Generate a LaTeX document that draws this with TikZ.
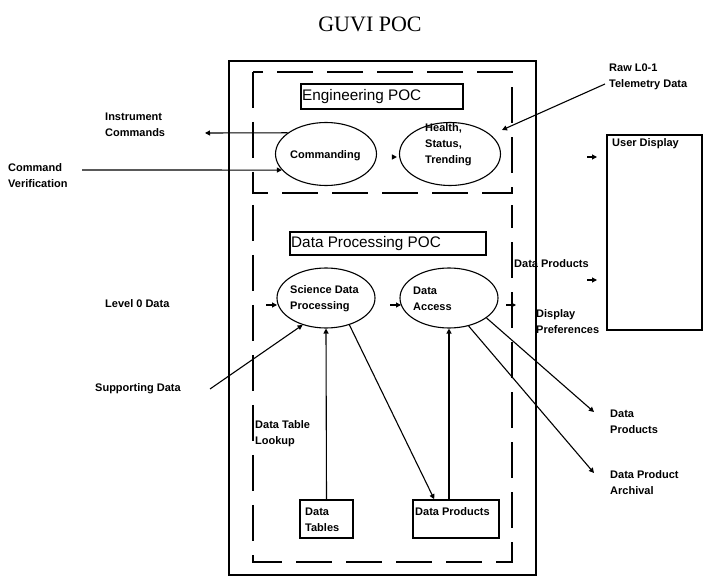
\documentclass[tikz,border=0pt]{standalone}
\usepackage{fontspec}
\setmainfont{Liberation Sans}
\newfontfamily\titlefont{Liberation Serif}
\usetikzlibrary{arrows.meta,shapes.geometric,calc}
\begin{document}
\begin{tikzpicture}[x=1pt,y=-1pt,
  lbl/.style={font=\bfseries\fontsize{11}{16}\selectfont, inner sep=0pt, anchor=west, align=left},
  btxt/.style={font=\fontsize{15.3}{17}\selectfont, inner sep=0pt, anchor=west},
  box/.style={draw, line width=1.6pt, inner sep=0pt},
  oval/.style={draw, ellipse, line width=1.1pt, inner sep=0pt},
  dashline/.style={line width=1.6pt, dash pattern=on 36pt off 14pt},
  arr/.style={line width=1.1pt, -{Triangle[length=5pt,width=5pt]}},
]
\useasboundingbox (0,0) rectangle (705,577);

% title
\node[font=\titlefont\fontsize{22}{24}\selectfont, inner sep=0pt] (title) at (370,24) {GUVI POC};

% outer frame and dashed groups
\draw[line width=2pt] (229,61) rectangle (536,575);
\draw[dashline] (253,72) rectangle (512,193);
\draw[dashline] (253,205) -- (253,562) -- (512,562) -- (512,205);

% engineering POC
\node[box, minimum width=162pt, minimum height=25pt] (engbox) at (382,96.5) {};
\node[btxt] (engtxt) at (302,97) {Engineering POC};
\node[oval, minimum width=101pt, minimum height=63pt] (comm) at (326,154) {};
\node[lbl] (commtxt) at (290,156) {Commanding};
\node[oval, minimum width=101pt, minimum height=63pt] (health) at (450,154) {};
\node[lbl] (healthtxt) at (425,145) {Health,\\Status,\\Trending};

% data processing POC
\node[box, minimum width=196pt, minimum height=23pt] (dpbox) at (388,243.5) {};
\node[btxt] (dptxt) at (291,244) {Data Processing POC};
\node[oval, minimum width=98pt, minimum height=60pt] (sci) at (326,298) {};
\node[lbl] (scitxt) at (290,299) {Science Data\\Processing};
\node[oval, minimum width=98pt, minimum height=60pt] (acc) at (449,298) {};
\node[lbl] (acctxt) at (413,299) {Data\\Access};
\node[box, minimum width=53pt, minimum height=38pt] (tables) at (326.5,519) {};
\node[lbl] (tabtxt) at (305,520) {Data\\Tables};
\node[box, minimum width=86pt, minimum height=38pt] (prod) at (456,519) {};
\node[lbl] (prodtxt) at (415,512) {Data Products};

% user display
\node[box, minimum width=95pt, minimum height=195pt] (user) at (654.5,232.5) {};
\node[lbl] (usertxt) at (612,144) {User Display};

% outside labels
\node[lbl] (instr) at (105,125) {Instrument\\Commands};
\node[lbl] (cmdver) at (8,176) {Command\\Verification};
\node[lbl] (raw) at (609,76.5) {Raw L0-1\\Telemetry Data};
\node[lbl] (dprod1) at (514,264) {Data Products};
\node[lbl] (disp) at (536,322) {Display\\Preferences};
\node[lbl] (lvl0) at (105,304) {Level 0 Data};
\node[lbl] (supp) at (95,389) {Supporting Data};
\node[lbl] (lookup) at (255,433.5) {Data Table\\Lookup};
\node[lbl] (dprod2) at (610,421.5) {Data\\Products};
\node[lbl] (arch) at (610,482.5) {Data Product\\Archival};

% connectors
\coordinate (icend) at (205,133);
\draw[arr] (comm.151) -- (icend);
\coordinate (cvstart) at (82,170);
\draw[arr] (cvstart) -- (comm.200);
\coordinate (rawstart) at (605,84);
\coordinate (rawend) at (502,130);
\draw[arr] (rawstart) -- (rawend);
\draw[arr] ([xshift=-7pt,yshift=-3pt]health.west) -- ([xshift=-2pt,yshift=-3pt]health.west);

\coordinate (ud1a) at (587,157);
\coordinate (ud1b) at (597,157);
\draw[arr] (ud1a) -- (ud1b);
\coordinate (ud2a) at (587,280);
\coordinate (ud2b) at (597,280);
\draw[arr] (ud2a) -- (ud2b);
\coordinate (dpa) at (506,305);
\coordinate (dpb) at (516,305);
\draw[arr] (dpa) -- (dpb);
\coordinate (l0a) at (266,305);
\coordinate (l0b) at (277,305);
\draw[arr] (l0a) -- (l0b);
\coordinate (aca) at (390,305);
\coordinate (acb) at (401,305);
\draw[arr] (aca) -- (acb);

\coordinate (suppstart) at (210,389);
\draw[arr] (suppstart) -- (sci.229);
\draw[arr] (tables.north) -- (sci.south);
\coordinate (prodhit) at ($(prod.north west)+(22,0)$);
\draw[arr] (sci.311) -- (prodhit);
\draw[arr] (acc.south |- prod.north) -- (acc.south);
\coordinate (dp2end) at (594,412);
\draw[arr] (acc.-28) -- (dp2end);
\coordinate (archend) at (594,473);
\draw[arr] (acc.-55) -- (archend);
\end{tikzpicture}
\end{document}
